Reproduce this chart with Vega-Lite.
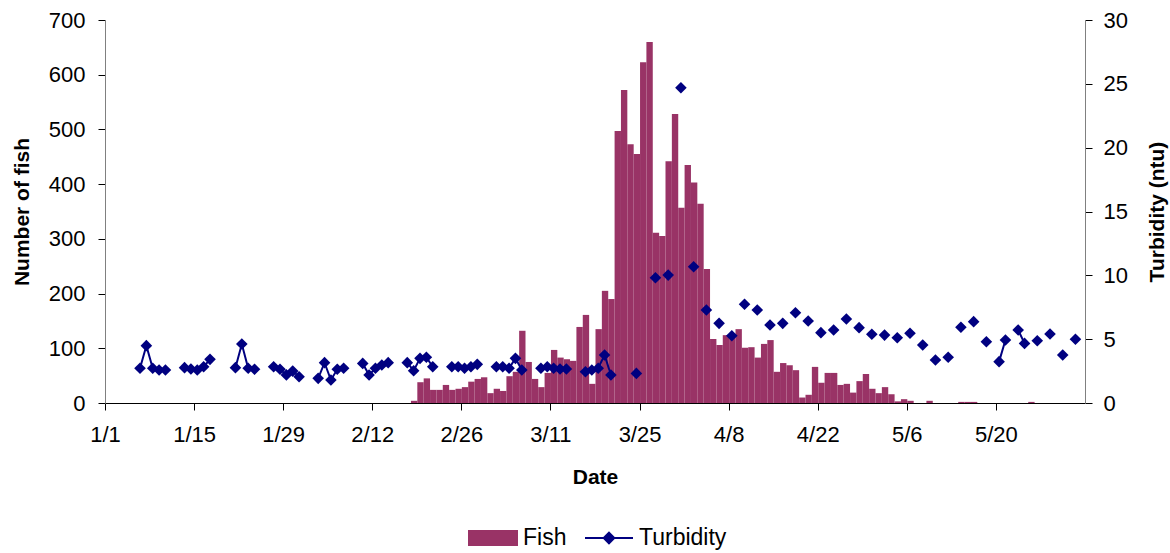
{
  "$schema": "https://vega.github.io/schema/vega-lite/v6.json",
  "width": 980,
  "height": 383,
  "autosize": {"type": "none"},
  "padding": {"left": 105, "top": 20, "right": 85, "bottom": 150},
  "background": "white",
  "config": {
    "font": "Liberation Sans",
    "view": {"stroke": null},
    "axis": {"labelFont": "Liberation Sans", "titleFont": "Liberation Sans", "labelColor": "black", "titleColor": "black", "grid": false},
    "legend": {"labelFont": "Liberation Sans"}
  },
  "data": {"values": [
    {"date": "2004-01-06", "t": 2.72},
    {"date": "2004-01-07", "t": 4.49},
    {"date": "2004-01-08", "t": 2.72},
    {"date": "2004-01-09", "t": 2.58},
    {"date": "2004-01-10", "t": 2.58},
    {"date": "2004-01-11", "t": null},
    {"date": "2004-01-12", "t": null},
    {"date": "2004-01-13", "t": 2.77},
    {"date": "2004-01-14", "t": 2.66},
    {"date": "2004-01-15", "t": 2.58},
    {"date": "2004-01-16", "t": 2.84},
    {"date": "2004-01-17", "t": 3.42},
    {"date": "2004-01-18", "t": null},
    {"date": "2004-01-19", "t": null},
    {"date": "2004-01-20", "t": null},
    {"date": "2004-01-21", "t": 2.77},
    {"date": "2004-01-22", "t": 4.62},
    {"date": "2004-01-23", "t": 2.72},
    {"date": "2004-01-24", "t": 2.64},
    {"date": "2004-01-25", "t": null},
    {"date": "2004-01-26", "t": null},
    {"date": "2004-01-27", "t": 2.84},
    {"date": "2004-01-28", "t": 2.64},
    {"date": "2004-01-29", "t": 2.2},
    {"date": "2004-01-30", "t": 2.5},
    {"date": "2004-01-31", "t": 2.06},
    {"date": "2004-02-01", "t": null},
    {"date": "2004-02-02", "t": null},
    {"date": "2004-02-03", "t": 1.93},
    {"date": "2004-02-04", "t": 3.16},
    {"date": "2004-02-05", "t": 1.8},
    {"date": "2004-02-06", "t": 2.64},
    {"date": "2004-02-07", "t": 2.72},
    {"date": "2004-02-08", "t": null},
    {"date": "2004-02-09", "t": null},
    {"date": "2004-02-10", "t": 3.1},
    {"date": "2004-02-11", "t": 2.19},
    {"date": "2004-02-12", "t": 2.72},
    {"date": "2004-02-13", "t": 2.98},
    {"date": "2004-02-14", "t": 3.16},
    {"date": "2004-02-15", "t": null},
    {"date": "2004-02-16", "t": null},
    {"date": "2004-02-17", "t": 3.16},
    {"date": "2004-02-18", "fish": 4, "t": 2.53},
    {"date": "2004-02-19", "fish": 38, "t": 3.5},
    {"date": "2004-02-20", "fish": 45, "t": 3.58},
    {"date": "2004-02-21", "fish": 24, "t": 2.84},
    {"date": "2004-02-22", "fish": 24, "t": null},
    {"date": "2004-02-23", "fish": 33, "t": null},
    {"date": "2004-02-24", "fish": 24, "t": 2.84},
    {"date": "2004-02-25", "fish": 26, "t": 2.84},
    {"date": "2004-02-26", "fish": 29, "t": 2.72},
    {"date": "2004-02-27", "fish": 39, "t": 2.84},
    {"date": "2004-02-28", "fish": 44, "t": 3.03},
    {"date": "2004-02-29", "fish": 47, "t": null},
    {"date": "2004-03-01", "fish": 18, "t": null},
    {"date": "2004-03-02", "fish": 26, "t": 2.84},
    {"date": "2004-03-03", "fish": 22, "t": 2.84},
    {"date": "2004-03-04", "fish": 49, "t": 2.72},
    {"date": "2004-03-05", "fish": 57, "t": 3.5},
    {"date": "2004-03-06", "fish": 132, "t": 2.58},
    {"date": "2004-03-07", "fish": 75, "t": null},
    {"date": "2004-03-08", "fish": 44, "t": null},
    {"date": "2004-03-09", "fish": 29, "t": 2.72},
    {"date": "2004-03-10", "fish": 55, "t": 2.84},
    {"date": "2004-03-11", "fish": 97, "t": 2.72},
    {"date": "2004-03-12", "fish": 83, "t": 2.66},
    {"date": "2004-03-13", "fish": 80, "t": 2.66},
    {"date": "2004-03-14", "fish": 77, "t": null},
    {"date": "2004-03-15", "fish": 139, "t": null},
    {"date": "2004-03-16", "fish": 161, "t": 2.45},
    {"date": "2004-03-17", "fish": 35, "t": 2.58},
    {"date": "2004-03-18", "fish": 135, "t": 2.72},
    {"date": "2004-03-19", "fish": 205, "t": 3.76},
    {"date": "2004-03-20", "fish": 190, "t": 2.19},
    {"date": "2004-03-21", "fish": 497, "t": null},
    {"date": "2004-03-22", "fish": 572, "t": null},
    {"date": "2004-03-23", "fish": 473, "t": null},
    {"date": "2004-03-24", "fish": 455, "t": 2.32},
    {"date": "2004-03-25", "fish": 623, "t": null},
    {"date": "2004-03-26", "fish": 660, "t": null},
    {"date": "2004-03-27", "fish": 311, "t": 9.81},
    {"date": "2004-03-28", "fish": 305, "t": null},
    {"date": "2004-03-29", "fish": 442, "t": 10.02},
    {"date": "2004-03-30", "fish": 528, "t": null},
    {"date": "2004-03-31", "fish": 357, "t": 24.69},
    {"date": "2004-04-01", "fish": 435, "t": null},
    {"date": "2004-04-02", "fish": 403, "t": 10.67},
    {"date": "2004-04-03", "fish": 364, "t": null},
    {"date": "2004-04-04", "fish": 245, "t": 7.28},
    {"date": "2004-04-05", "fish": 117, "t": null},
    {"date": "2004-04-06", "fish": 106, "t": 6.24},
    {"date": "2004-04-07", "fish": 124, "t": null},
    {"date": "2004-04-08", "fish": 124, "t": 5.27},
    {"date": "2004-04-09", "fish": 135, "t": null},
    {"date": "2004-04-10", "fish": 101, "t": 7.73},
    {"date": "2004-04-11", "fish": 102, "t": null},
    {"date": "2004-04-12", "fish": 83, "t": 7.28},
    {"date": "2004-04-13", "fish": 108, "t": null},
    {"date": "2004-04-14", "fish": 115, "t": 6.11},
    {"date": "2004-04-15", "fish": 57, "t": null},
    {"date": "2004-04-16", "fish": 73, "t": 6.24},
    {"date": "2004-04-17", "fish": 69, "t": null},
    {"date": "2004-04-18", "fish": 60, "t": 7.07},
    {"date": "2004-04-19", "fish": 10, "t": null},
    {"date": "2004-04-20", "fish": 15, "t": 6.42},
    {"date": "2004-04-21", "fish": 66, "t": null},
    {"date": "2004-04-22", "fish": 37, "t": 5.51},
    {"date": "2004-04-23", "fish": 55, "t": null},
    {"date": "2004-04-24", "fish": 55, "t": 5.72},
    {"date": "2004-04-25", "fish": 33, "t": null},
    {"date": "2004-04-26", "fish": 35, "t": 6.58},
    {"date": "2004-04-27", "fish": 19, "t": null},
    {"date": "2004-04-28", "fish": 40, "t": 5.9},
    {"date": "2004-04-29", "fish": 53, "t": null},
    {"date": "2004-04-30", "fish": 26, "t": 5.38},
    {"date": "2004-05-01", "fish": 18, "t": null},
    {"date": "2004-05-02", "fish": 29, "t": 5.32},
    {"date": "2004-05-03", "fish": 16, "t": null},
    {"date": "2004-05-04", "fish": 3, "t": 5.11},
    {"date": "2004-05-05", "fish": 7, "t": null},
    {"date": "2004-05-06", "fish": 4, "t": 5.46},
    {"date": "2004-05-07", "t": null},
    {"date": "2004-05-08", "t": 4.54},
    {"date": "2004-05-09", "fish": 4, "t": null},
    {"date": "2004-05-10", "t": 3.37},
    {"date": "2004-05-11", "t": null},
    {"date": "2004-05-12", "t": 3.58},
    {"date": "2004-05-13", "t": null},
    {"date": "2004-05-14", "fish": 2, "t": 5.93},
    {"date": "2004-05-15", "fish": 2, "t": null},
    {"date": "2004-05-16", "fish": 2, "t": 6.37},
    {"date": "2004-05-17", "t": null},
    {"date": "2004-05-18", "t": 4.8},
    {"date": "2004-05-19", "t": null},
    {"date": "2004-05-20", "t": 3.24},
    {"date": "2004-05-21", "t": 4.93},
    {"date": "2004-05-22", "t": null},
    {"date": "2004-05-23", "t": 5.72},
    {"date": "2004-05-24", "t": 4.67},
    {"date": "2004-05-25", "fish": 2, "t": null},
    {"date": "2004-05-26", "t": 4.88},
    {"date": "2004-05-27", "t": null},
    {"date": "2004-05-28", "t": 5.4},
    {"date": "2004-05-29", "t": null},
    {"date": "2004-05-30", "t": 3.76},
    {"date": "2004-05-31", "t": null},
    {"date": "2004-06-01", "t": 4.99}
  ]},
  "layer": [
    {
      "mark": {"type": "bar", "binSpacing": 0},
      "encoding": {
        "x": {
          "field": "date", "type": "temporal", "timeUnit": "utcyearmonthdate",
          "scale": {"type": "utc", "domain": [{"year": 2004, "month": 1, "date": 1, "utc": true}, {"year": 2004, "month": 6, "date": 3, "utc": true}]},
          "axis": {
            "values": [
              {"year": 2004, "month": 1, "date": 1, "utc": true},
              {"year": 2004, "month": 1, "date": 15, "utc": true},
              {"year": 2004, "month": 1, "date": 29, "utc": true},
              {"year": 2004, "month": 2, "date": 12, "utc": true},
              {"year": 2004, "month": 2, "date": 26, "utc": true},
              {"year": 2004, "month": 3, "date": 11, "utc": true},
              {"year": 2004, "month": 3, "date": 25, "utc": true},
              {"year": 2004, "month": 4, "date": 8, "utc": true},
              {"year": 2004, "month": 4, "date": 22, "utc": true},
              {"year": 2004, "month": 5, "date": 6, "utc": true},
              {"year": 2004, "month": 5, "date": 20, "utc": true}
            ],
            "format": "%-m/%-d", "title": "Date",
            "labelFontSize": 22, "titleFontSize": 21, "titleFontWeight": "bold",
            "domainColor": "black", "tickColor": "black", "tickSize": 7,
            "labelPadding": 14, "titlePadding": 21, "labelFlush": false, "labelOverlap": false
          }
        },
        "y": {
          "field": "fish", "type": "quantitative",
          "scale": {"domain": [0, 700]},
          "axis": {
            "values": [0, 100, 200, 300, 400, 500, 600, 700],
            "title": "Number of fish", "titleFontSize": 21, "titleFontWeight": "bold",
            "labelFontSize": 22, "domainColor": "#808080", "tickColor": "black", "tickSize": 7,
            "labelPadding": 13, "titlePadding": 16
          }
        },
        "color": {
          "datum": "Fish",
          "scale": {"domain": ["Fish", "Turbidity"], "range": ["#993366", "#000080"]},
          "legend": {
            "orient": "none", "legendX": 363, "legendY": 493,
            "direction": "horizontal", "title": null,
            "labelFontSize": 23, "labelColor": "black", "symbolSize": 2304,
            "columnPadding": 14, "labelOffset": 5, "padding": 0,
            "encode": {
              "symbols": {
                "update": {
                  "shape": {"signal": "datum.value === 'Fish' ? 'M-1,-0.29H1V0.29H-1Z' : 'M-1,0H1M0,-0.22L0.22,0L0,0.22L-0.22,0Z'"},
                  "fill": {"signal": "datum.value === 'Fish' ? '#993366' : '#000080'"},
                  "stroke": {"signal": "datum.value === 'Fish' ? 'transparent' : '#000080'"},
                  "strokeWidth": {"value": 2},
                  "opacity": {"value": 1}
                }
              }
            }
          }
        }
      }
    },
    {
      "encoding": {
        "x": {"field": "date", "type": "temporal", "timeUnit": "utcyearmonthdate", "bandPosition": 0.5},
        "y": {
          "field": "t", "type": "quantitative",
          "scale": {"domain": [0, 30]},
          "axis": {
            "orient": "right", "values": [0, 5, 10, 15, 20, 25, 30],
            "title": "Turbidity (ntu)", "titleFontSize": 21, "titleFontWeight": "bold",
            "titleAngle": 270, "titleBaseline": "top",
            "labelFontSize": 22, "domainColor": "#808080", "tickColor": "black", "tickSize": 7,
            "labelPadding": 11, "titlePadding": 19
          }
        },
        "color": {"datum": "Turbidity"}
      },
      "layer": [
        {"mark": {"type": "line", "strokeWidth": 2, "invalid": "break-paths-filter-domains"}},
        {"mark": {"type": "point", "shape": "diamond", "filled": true, "size": 135, "opacity": 1}}
      ]
    }
  ],
  "resolve": {"scale": {"y": "independent"}}
}
